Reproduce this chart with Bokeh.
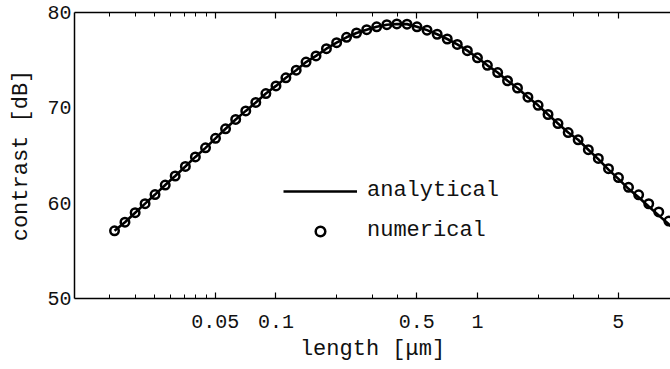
from bokeh.plotting import figure
from bokeh.models import (FixedTicker, LogAxis, Legend, LegendItem, Range1d,
                          CustomLabelingPolicy)
from bokeh.embed import file_html
from bokeh.resources import INLINE

# numerical points: length [um] and contrast [dB]
length_num = [0.0158, 0.0178, 0.0200, 0.0224, 0.0251, 0.0282, 0.0316, 0.0355, 0.0398, 0.0447,
              0.0501, 0.0562, 0.0631, 0.0708, 0.0794, 0.0891, 0.100, 0.112, 0.126, 0.141,
              0.158, 0.178, 0.200, 0.224, 0.251, 0.282, 0.316, 0.355, 0.398, 0.447,
              0.501, 0.562, 0.631, 0.708, 0.794, 0.891, 1.00, 1.12, 1.26, 1.41,
              1.58, 1.78, 2.00, 2.24, 2.51, 2.82, 3.16, 3.55, 3.98, 4.47,
              5.01, 5.62, 6.31, 7.08, 7.94, 8.91]
contrast_num = [57.1, 58.0, 59.0, 59.95, 60.9, 61.9, 62.85, 63.85, 64.85, 65.8,
                66.8, 67.8, 68.78, 69.68, 70.57, 71.5, 72.3, 73.15, 73.95, 74.8,
                75.45, 76.2, 76.83, 77.4, 77.85, 78.2, 78.5, 78.72, 78.8, 78.78,
                78.5, 78.15, 77.72, 77.22, 76.65, 76.0, 75.25, 74.46, 73.7, 72.84,
                72.08, 71.12, 70.26, 69.3, 68.35, 67.41, 66.65, 65.61, 64.69, 63.62,
                62.69, 61.66, 60.87, 59.94, 59.08, 58.12]

# analytical curve
length_ana = length_num + [10.0]
contrast_ana = [57.1, 58.0, 59.0, 59.95, 60.9, 61.9, 62.85, 63.85, 64.85, 65.8,
                66.8, 67.8, 68.78, 69.68, 70.57, 71.5, 72.3, 73.15, 73.95, 74.8,
                75.45, 76.2, 76.83, 77.4, 77.85, 78.2, 78.5, 78.72, 78.8, 78.78,
                78.5, 78.15, 77.72, 77.22, 76.65, 76.0, 75.25, 74.46, 73.7, 72.84,
                72.08, 71.12, 70.26, 69.3, 68.35, 67.41, 66.65, 65.6, 64.62, 63.52,
                62.55, 61.5, 60.62, 59.65, 58.72, 57.78, 56.85]

x_ticks = [0.05, 0.1, 0.5, 1, 5]
x_tick_labels = ["0.05", "0.1", "0.5", "1", "5"]
x_minor_ticks = [0.015, 0.02, 0.025, 0.03, 0.035, 0.04, 0.045, 0.2, 0.3, 0.4, 2, 3, 4]
y_ticks = [50, 60, 70, 80]

FONT = "Liberation Mono"
TICK_FS = "20px"
LABEL_FS = "22px"
INK = "#111111"

p = figure(width=670, height=369, x_axis_type="log",
           x_range=Range1d(0.01, 9.08), y_range=Range1d(50, 80),
           output_backend="svg", toolbar_location=None,
           min_border_left=74, min_border_right=0, min_border_top=12, min_border_bottom=71)
p.outline_line_color = None
p.grid.visible = False

r_line = p.line(length_ana, contrast_ana, line_color="black", line_width=2.6)
r_pts = p.scatter(length_num, contrast_num, marker="circle", size=8.5,
                  line_color="black", line_width=2.5, fill_color=None)

bottom = p.xaxis[0]
bottom.ticker = FixedTicker(ticks=x_ticks, minor_ticks=x_minor_ticks)
bottom.major_label_overrides = dict(zip(x_ticks, x_tick_labels))
bottom.axis_label = "length [μm]"
bottom.major_label_standoff = 16
bottom.axis_label_standoff = 6

top = LogAxis(ticker=FixedTicker(ticks=x_ticks, minor_ticks=x_minor_ticks),
              major_label_policy=CustomLabelingPolicy(code="return []"),
              major_label_text_font_size="1px", major_label_standoff=0)
p.add_layout(top, "above")

for ax in (bottom, top):
    ax.axis_line_color = "black"
    ax.axis_line_width = 1.5
    ax.major_tick_in = 6
    ax.major_tick_out = 0
    ax.minor_tick_in = 4
    ax.minor_tick_out = 0
    ax.major_tick_line_color = "black"
    ax.minor_tick_line_color = "black"
    ax.major_tick_line_width = 1.2
    ax.minor_tick_line_width = 1

left = p.yaxis[0]
left.ticker = FixedTicker(ticks=y_ticks)
left.axis_label = "contrast [dB]"
left.axis_line_color = "black"
left.axis_line_width = 1.5
left.major_tick_in = 0
left.major_tick_out = 0
left.minor_tick_in = 0
left.minor_tick_out = 0
left.major_label_standoff = 3
left.axis_label_standoff = 10

for ax in (bottom, left):
    ax.major_label_text_font = FONT
    ax.major_label_text_font_size = TICK_FS
    ax.major_label_text_color = INK
    ax.axis_label_text_font = FONT
    ax.axis_label_text_font_size = LABEL_FS
    ax.axis_label_text_font_style = "normal"
    ax.axis_label_text_color = INK

legend = Legend(items=[LegendItem(label="analytical", renderers=[r_line]),
                       LegendItem(label="numerical", renderers=[r_pts])],
                location=(209, 55), padding=0, margin=0, spacing=15,
                glyph_width=74, glyph_height=24, label_height=24, label_standoff=10,
                label_text_font=FONT, label_text_font_size=LABEL_FS, label_text_color=INK,
                border_line_color=None, background_fill_alpha=0)
p.add_layout(legend)

open("out.html", "w").write(file_html(p, INLINE))
